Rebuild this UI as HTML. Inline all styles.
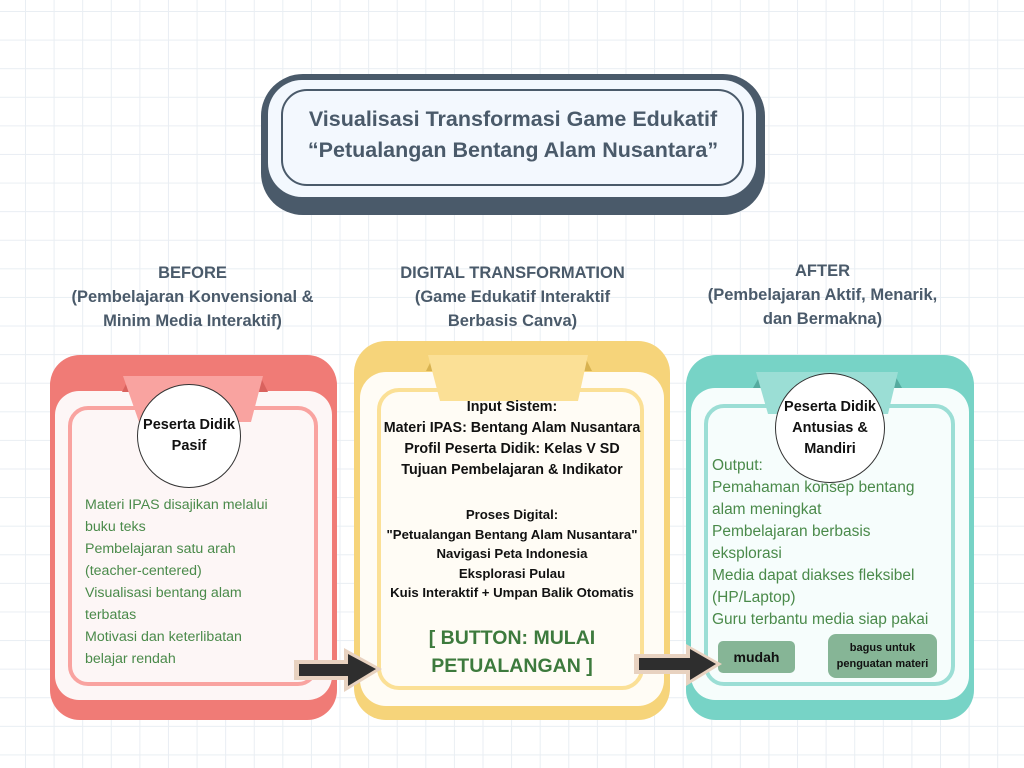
<!DOCTYPE html>
<html><head><meta charset="utf-8"><style>
*{margin:0;padding:0;box-sizing:border-box}
body{width:1024px;height:768px;overflow:hidden;position:relative;font-family:"Liberation Sans",sans-serif;
background-color:#fff;
background-image:linear-gradient(#e9eef3 1px,transparent 1px),linear-gradient(90deg,#e9eef3 1px,transparent 1px);
background-size:28.6px 28.6px;background-position:25px 11px}
.a{position:absolute}
.h{color:#4a5a6a;font-weight:bold;text-align:center;font-size:16.5px;line-height:24px}
.g{color:#4a8a4a;line-height:22px}
.k{color:#111;font-weight:bold;text-align:center}
.circ{position:absolute;background:#fff;border:1px solid #333;border-radius:50%;display:flex;align-items:center;justify-content:center;text-align:center;font-weight:bold;font-size:14.5px;line-height:21px;color:#111}
</style></head><body>

<div class="a" style="left:261px;top:74px;width:504px;height:141px;background:#4a5a6a;border-radius:42px"></div>
<div class="a" style="left:268px;top:80px;width:488px;height:117px;background:#f3f8fe;border-radius:34px"></div>
<div class="a" style="left:281px;top:89px;width:463px;height:97px;border:2px solid #4a5a6a;border-radius:26px"></div>
<div class="a h" style="left:261px;top:104px;width:504px;font-size:21.5px;line-height:31px">Visualisasi Transformasi Game Edukatif<br>“Petualangan Bentang Alam Nusantara”</div>

<div class="a h" style="left:20px;top:261px;width:345px">BEFORE<br>(Pembelajaran Konvensional &amp;<br>Minim Media Interaktif)</div>
<div class="a h" style="left:340px;top:261px;width:345px">DIGITAL TRANSFORMATION<br>(Game Edukatif Interaktif<br>Berbasis Canva)</div>
<div class="a h" style="left:650px;top:259px;width:345px">AFTER<br>(Pembelajaran Aktif, Menarik,<br>dan Bermakna)</div>

<div class="a" style="left:50px;top:355px;width:287px;height:365px;background:#f07b76;border-radius:30px"></div>
<div class="a" style="left:55px;top:391px;width:277px;height:309px;background:#fdf6f6;border-radius:24px"></div>
<div class="a" style="left:68px;top:406px;width:250px;height:280px;border:4px solid #f9a3a0;border-radius:20px"></div>
<svg class="a" style="left:110px;top:374px" width="170" height="50"><polygon points="12,18 20,2 30,18" fill="#d9625e"/><polygon points="140,18 150,2 158,18" fill="#d9625e"/><polygon points="13,2 153,2 141,48 29,48" fill="#f9a3a0"/></svg>
<div class="circ" style="left:137px;top:384px;width:104px;height:104px">Peserta Didik<br>Pasif</div>
<div class="a g" style="left:85px;top:494px;width:190px;font-size:14.2px">Materi IPAS disajikan melalui buku teks<br>Pembelajaran satu arah (teacher-centered)<br>Visualisasi bentang alam terbatas<br>Motivasi dan keterlibatan belajar rendah</div>

<div class="a" style="left:354px;top:341px;width:316px;height:379px;background:#f6d47a;border-radius:32px"></div>
<div class="a" style="left:360px;top:372px;width:304px;height:334px;background:#fffcf5;border-radius:26px"></div>
<div class="a" style="left:377px;top:388px;width:267px;height:302px;border:4px solid #fbe096;border-radius:22px"></div>
<svg class="a" style="left:420px;top:353px" width="180" height="50"><polygon points="6,18 14,2 22,18" fill="#d8b250"/><polygon points="156,18 164,2 172,18" fill="#d8b250"/><polygon points="8,2 168,2 158,48 20,48" fill="#fbe096"/></svg>
<div class="a k" style="left:362px;top:397px;width:300px;font-size:14.3px;line-height:21px">Input Sistem:<br>Materi IPAS: Bentang Alam Nusantara<br>Profil Peserta Didik: Kelas V SD<br>Tujuan Pembelajaran &amp; Indikator</div>
<div class="a k" style="left:362px;top:505px;width:300px;font-size:13.2px;line-height:19.5px">Proses Digital:<br>"Petualangan Bentang Alam Nusantara"<br>Navigasi Peta Indonesia<br>Eksplorasi Pulau<br>Kuis Interaktif + Umpan Balik Otomatis</div>
<div class="a" style="left:362px;top:624px;width:300px;text-align:center;color:#3d7a3d;font-weight:bold;font-size:19.5px;line-height:28px">[ BUTTON: MULAI<br>PETUALANGAN ]</div>

<div class="a" style="left:686px;top:355px;width:288px;height:365px;background:#77d3c6;border-radius:30px"></div>
<div class="a" style="left:691px;top:388px;width:278px;height:312px;background:#f6fdfc;border-radius:24px"></div>
<div class="a" style="left:704px;top:404px;width:251px;height:282px;border:4px solid #9bded5;border-radius:20px"></div>
<svg class="a" style="left:750px;top:370px" width="160" height="50"><polygon points="3,18 12,2 20,18" fill="#55ab9f"/><polygon points="134,18 143,2 152,18" fill="#55ab9f"/><polygon points="6,2 148,2 138,44 18,44" fill="#9bded5"/></svg>
<div class="circ" style="left:775px;top:373px;width:110px;height:110px">Peserta Didik<br>Antusias &amp;<br>Mandiri</div>
<div class="a g" style="left:712px;top:455px;width:225px;font-size:15.5px">Output:<br>Pemahaman konsep bentang alam meningkat<br>Pembelajaran berbasis eksplorasi<br>Media dapat diakses fleksibel (HP/Laptop)<br>Guru terbantu media siap pakai</div>
<div class="a k" style="left:718px;top:641px;width:77px;height:32px;background:#86b596;border-radius:5px;font-size:14px;line-height:32px">mudah</div>
<div class="a k" style="left:828px;top:634px;width:109px;height:44px;background:#86b596;border-radius:8px;font-size:11px;line-height:16px;padding-top:6px">bagus untuk<br>penguatan materi</div>

<svg class="a" style="left:292px;top:646px" width="92" height="48"><polygon points="2,14 52,14 52,2 90,23 52,46 52,34 2,34" fill="#e8d2c0"/><polygon points="7,18 56,18 56,8 84,23 56,40 56,30 7,30" fill="#2e2e2e"/></svg>
<svg class="a" style="left:632px;top:642px" width="92" height="48"><polygon points="2,12 54,12 54,2 90,22 54,44 54,32 2,32" fill="#e8d2c0"/><polygon points="7,16 58,16 58,7 84,22 58,38 58,28 7,28" fill="#2e2e2e"/></svg>
</body></html>
